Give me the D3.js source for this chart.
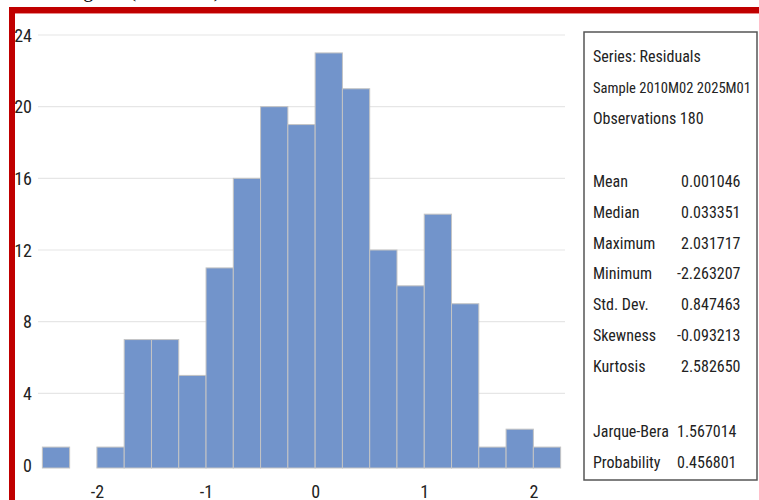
<!DOCTYPE html>
<html><head><meta charset="utf-8">
<script src="https://cdn.jsdelivr.net/npm/d3@7"></script>
<style>
html,body{margin:0;padding:0;background:#fff;}
svg{display:block;}
</style></head>
<body>
<script>
const binStarts = [-2.5,-2.25,-2.0,-1.75,-1.5,-1.25,-1.0,-0.75,-0.5,-0.25,0,0.25,0.5,0.75,1.0,1.25,1.5,1.75,2.0];
const counts    = [1,0,1,7,7,5,11,16,20,19,23,21,12,10,14,9,1,2,1];
const binWidth = 0.25;
const yTicks = [0,4,8,12,16,20,24];
const xTicks = [-2,-1,0,1,2];
const statLabels = ["Mean","Median","Maximum","Minimum","Std. Dev.","Skewness","Kurtosis"];
const statValues = ["0.001046","0.033351","2.031717","-2.263207","0.847463","-0.093213","2.582650"];
const testLabels = ["Jarque-Bera","Probability"];
const testValues = ["1.567014","0.456801"];
const headerLines = ["Series: Residuals","Sample 2010M02 2025M01","Observations 180"];

const W = 759, H = 500;
const svg = d3.select("body").append("svg").attr("width", W).attr("height", H);
const font = "'Liberation Sans Narrow','Roboto Condensed',Roboto,'Liberation Sans',sans-serif";

// partially cut title (only its descenders show, as in the reference)
svg.append("text").attr("x", 40).attr("y", -3)
  .attr("font-family","'Liberation Serif',serif").attr("font-size", 20).attr("fill","#000")
  .text("Histogram (Residuals)");

// red frame
svg.append("rect").attr("x", 9).attr("y", 7).attr("width", W).attr("height", 6).attr("fill", "#c00000");
svg.append("rect").attr("x", 9).attr("y", 13).attr("width", W).attr("height", 1).attr("fill", "#e88a8a");
svg.append("rect").attr("x", 9).attr("y", 7).attr("width", 6).attr("height", H).attr("fill", "#c00000");

const x = d3.scaleLinear().domain([-2.54, 2.29]).range([38, 565]);
const y = d3.scaleLinear().domain([0, 24]).range([465, 35]);

// gridlines
svg.append("g").selectAll("line").data(yTicks.filter(d => d > 0)).join("line")
  .attr("x1", 38).attr("x2", 565)
  .attr("y1", d => y(d)).attr("y2", d => y(d))
  .attr("stroke", "#e6e6e6").attr("stroke-width", 1.2);

// bars
svg.append("g").selectAll("rect").data(binStarts.map((s, i) => ({s, c: counts[i]})).filter(d => d.c > 0)).join("rect")
  .attr("x", d => x(d.s))
  .attr("width", d => x(d.s + binWidth) - x(d.s))
  .attr("y", d => y(d.c))
  .attr("height", d => y(0) - y(d.c) + 3)
  .attr("fill", "#7294cb")
  .attr("stroke", "#c4c4c4").attr("stroke-width", 1);

// y axis labels
const yAxis = d3.axisLeft(y).tickValues(yTicks).tickSize(0).tickPadding(0).tickFormat(d => String(d));
const gy = svg.append("g").attr("transform", "translate(32,0)").call(yAxis);
gy.select(".domain").remove();
gy.selectAll("text").attr("font-family", font).attr("font-size", 18).attr("fill", "#222")
  .attr("dy", "0.35em");

// x axis labels
const xAxis = d3.axisBottom(x).tickValues(xTicks).tickSize(0).tickPadding(0).tickFormat(d => String(d));
const gx = svg.append("g").attr("transform", "translate(0,484)").call(xAxis);
gx.select(".domain").remove();
gx.selectAll("text").attr("font-family", font).attr("font-size", 18).attr("fill", "#222").attr("dy", "0.75em");

// stats box
svg.append("rect").attr("x", 584).attr("y", 32).attr("width", 173).attr("height", 448)
  .attr("fill", "#fff").attr("stroke", "#555").attr("stroke-width", 1.5);

const tg = svg.append("g").attr("font-family", font).attr("font-size", 16).attr("fill", "#222");
const headerY = [62, 93, 124];
tg.selectAll("text.h").data(headerLines).join("text").attr("class","h")
  .attr("x", 593).attr("y", (d, i) => headerY[i])
  .attr("font-size", (d, i) => i === 1 ? 15 : 16)
  .attr("textLength", (d, i) => i === 1 ? 158 : null)
  .attr("lengthAdjust", "spacingAndGlyphs")
  .text(d => d);

const statY = [187, 218, 249, 279, 310, 341, 372];
tg.selectAll("text.sl").data(statLabels).join("text").attr("class","sl")
  .attr("x", 593).attr("y", (d, i) => statY[i]).text(d => d);
tg.selectAll("text.sv").data(statValues).join("text").attr("class","sv")
  .attr("x", d => d.startsWith("-") ? 677 : 681).attr("y", (d, i) => statY[i]).text(d => d);

const testY = [437, 468];
tg.selectAll("text.tl").data(testLabels).join("text").attr("class","tl")
  .attr("x", 593).attr("y", (d, i) => testY[i]).text(d => d);
tg.selectAll("text.tv").data(testValues).join("text").attr("class","tv")
  .attr("x", 677).attr("y", (d, i) => testY[i]).text(d => d);
</script>
</body></html>
